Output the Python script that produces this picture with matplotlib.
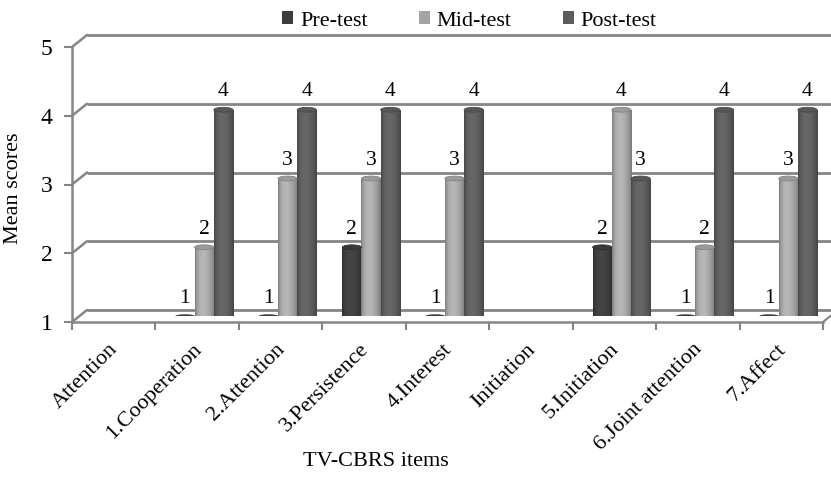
import numpy as np
import matplotlib
matplotlib.use("Agg")
import matplotlib.pyplot as plt
from matplotlib.patches import Ellipse, Rectangle, ConnectionPatch

plt.rcParams["font.family"] = ["Liberation Serif", "DejaVu Serif"]

# data
categories = ["Attention", "1.Cooperation", "2.Attention", "3.Persistence", "4.Interest",
              "Initiation", "5.Initiation", "6.Joint attention", "7.Affect"]
pre_test = [np.nan, 1, 1, 2, 1, np.nan, 2, 1, 1]
mid_test = [np.nan, 2, 3, 3, 3, np.nan, 4, 2, 3]
post_test = [np.nan, 4, 4, 4, 4, np.nan, 3, 4, 4]
series = [("Pre-test", pre_test, "#3d3d3d"),
          ("Mid-test", mid_test, "#a3a3a3"),
          ("Post-test", post_test, "#5c5c5c")]
y_ticks = [1, 2, 3, 4, 5]

W, H = 831, 480
L, R, B, T = 72, 823, 322, 47
fig = plt.figure(figsize=(W / 100, H / 100), dpi=100)
gray = "#858585"


def rect(dx, dy):
    return [(L + dx) / W, 1 - (B - dy) / H, (R - L) / W, (B - T) / H]


# back wall (gridlines), bar plane, front axis
ag = fig.add_axes(rect(15, 12), zorder=0)
ab = fig.add_axes(rect(7, 6), zorder=2)
ax = fig.add_axes(rect(0, 0), zorder=1)
n = len(categories)
for a in (ag, ab, ax):
    a.set_xlim(0, n)
    a.set_ylim(1, 5)
    a.patch.set_visible(False)
ag.axis("off")
ab.axis("off")

ag.hlines(y_ticks, 0, n, color=gray, lw=2.0, clip_on=False)
for v in y_ticks:
    fig.add_artist(ConnectionPatch((0, v), (0, v), coordsA=ax.transData,
                                   coordsB=ag.transData, color=gray, lw=1.8))
fig.add_artist(ConnectionPatch((n, 1), (n, 1), coordsA=ax.transData,
                               coordsB=ag.transData, color=gray, lw=1.5))

# front axis
for s in ("top", "right"):
    ax.spines[s].set_visible(False)
for s in ("left", "bottom"):
    ax.spines[s].set_color(gray)
    ax.spines[s].set_linewidth(1.8)
ax.set_yticks(y_ticks)
ax.set_xticks(np.arange(n + 1))
ax.set_xticklabels([])
ax.tick_params(axis="y", length=6, width=1.5, color=gray, labelsize=17, pad=8)
ax.tick_params(axis="x", length=6, width=1.5, color=gray)
for i, c in enumerate(categories):
    ax.text(i + 0.52, 0.64, c, rotation=45, ha="right", va="center",
            rotation_mode="anchor", fontsize=16, clip_on=False)

# bars
bw = 0.23
t = np.linspace(0, 1, 64)
shade = 0.72 + 0.5 * np.sin(np.pi * t) ** 0.6 * (1 - 0.45 * t)
for k, (name, vals, col) in enumerate(series):
    base = np.array(matplotlib.colors.to_rgb(col))
    img = np.clip(base[None, None, :] * shade[None, :, None], 0, 1)
    for i, v in enumerate(vals):
        if np.isnan(v):
            continue
        xc = i + 0.5 + (k - 1) * bw
        x0 = xc - bw / 2
        if v > 1:
            p = Rectangle((x0, 1), bw, v - 1, facecolor="none", edgecolor="none")
            ab.add_patch(p)
            im = ab.imshow(img, extent=(x0, x0 + bw, 1, v), aspect="auto",
                           interpolation="bilinear", zorder=2)
            im.set_clip_path(p)
            ab.add_patch(Ellipse((xc, v), bw, 0.07, facecolor=base * 0.95,
                                 edgecolor=base * 0.8, lw=0.6, zorder=3))
        else:
            ab.add_patch(Ellipse((xc, 1), bw, 0.05, facecolor=base,
                                 edgecolor="none", zorder=3))
        ab.text(xc, v + 0.12, f"{v:g}", ha="center", va="bottom", fontsize=15.5)

# legend
handles = [Rectangle((0, 0), 1, 1, facecolor=c, edgecolor="none") for _, _, c in series]
fig.legend(handles, [s[0] for s in series], loc="upper center", ncol=3,
           bbox_to_anchor=(0.565, 1.018), frameon=False, fontsize=16,
           handlelength=0.5, handleheight=0.5, handletextpad=0.3,
           columnspacing=2.3)

fig.text(376 / W, 1 - 462 / H, "TV-CBRS items", ha="center", va="center", fontsize=16)
fig.text(14 / W, 1 - 188 / H, "Mean scores", ha="center", va="center",
         rotation=90, fontsize=16)

fig.savefig("out.png", dpi=100)
